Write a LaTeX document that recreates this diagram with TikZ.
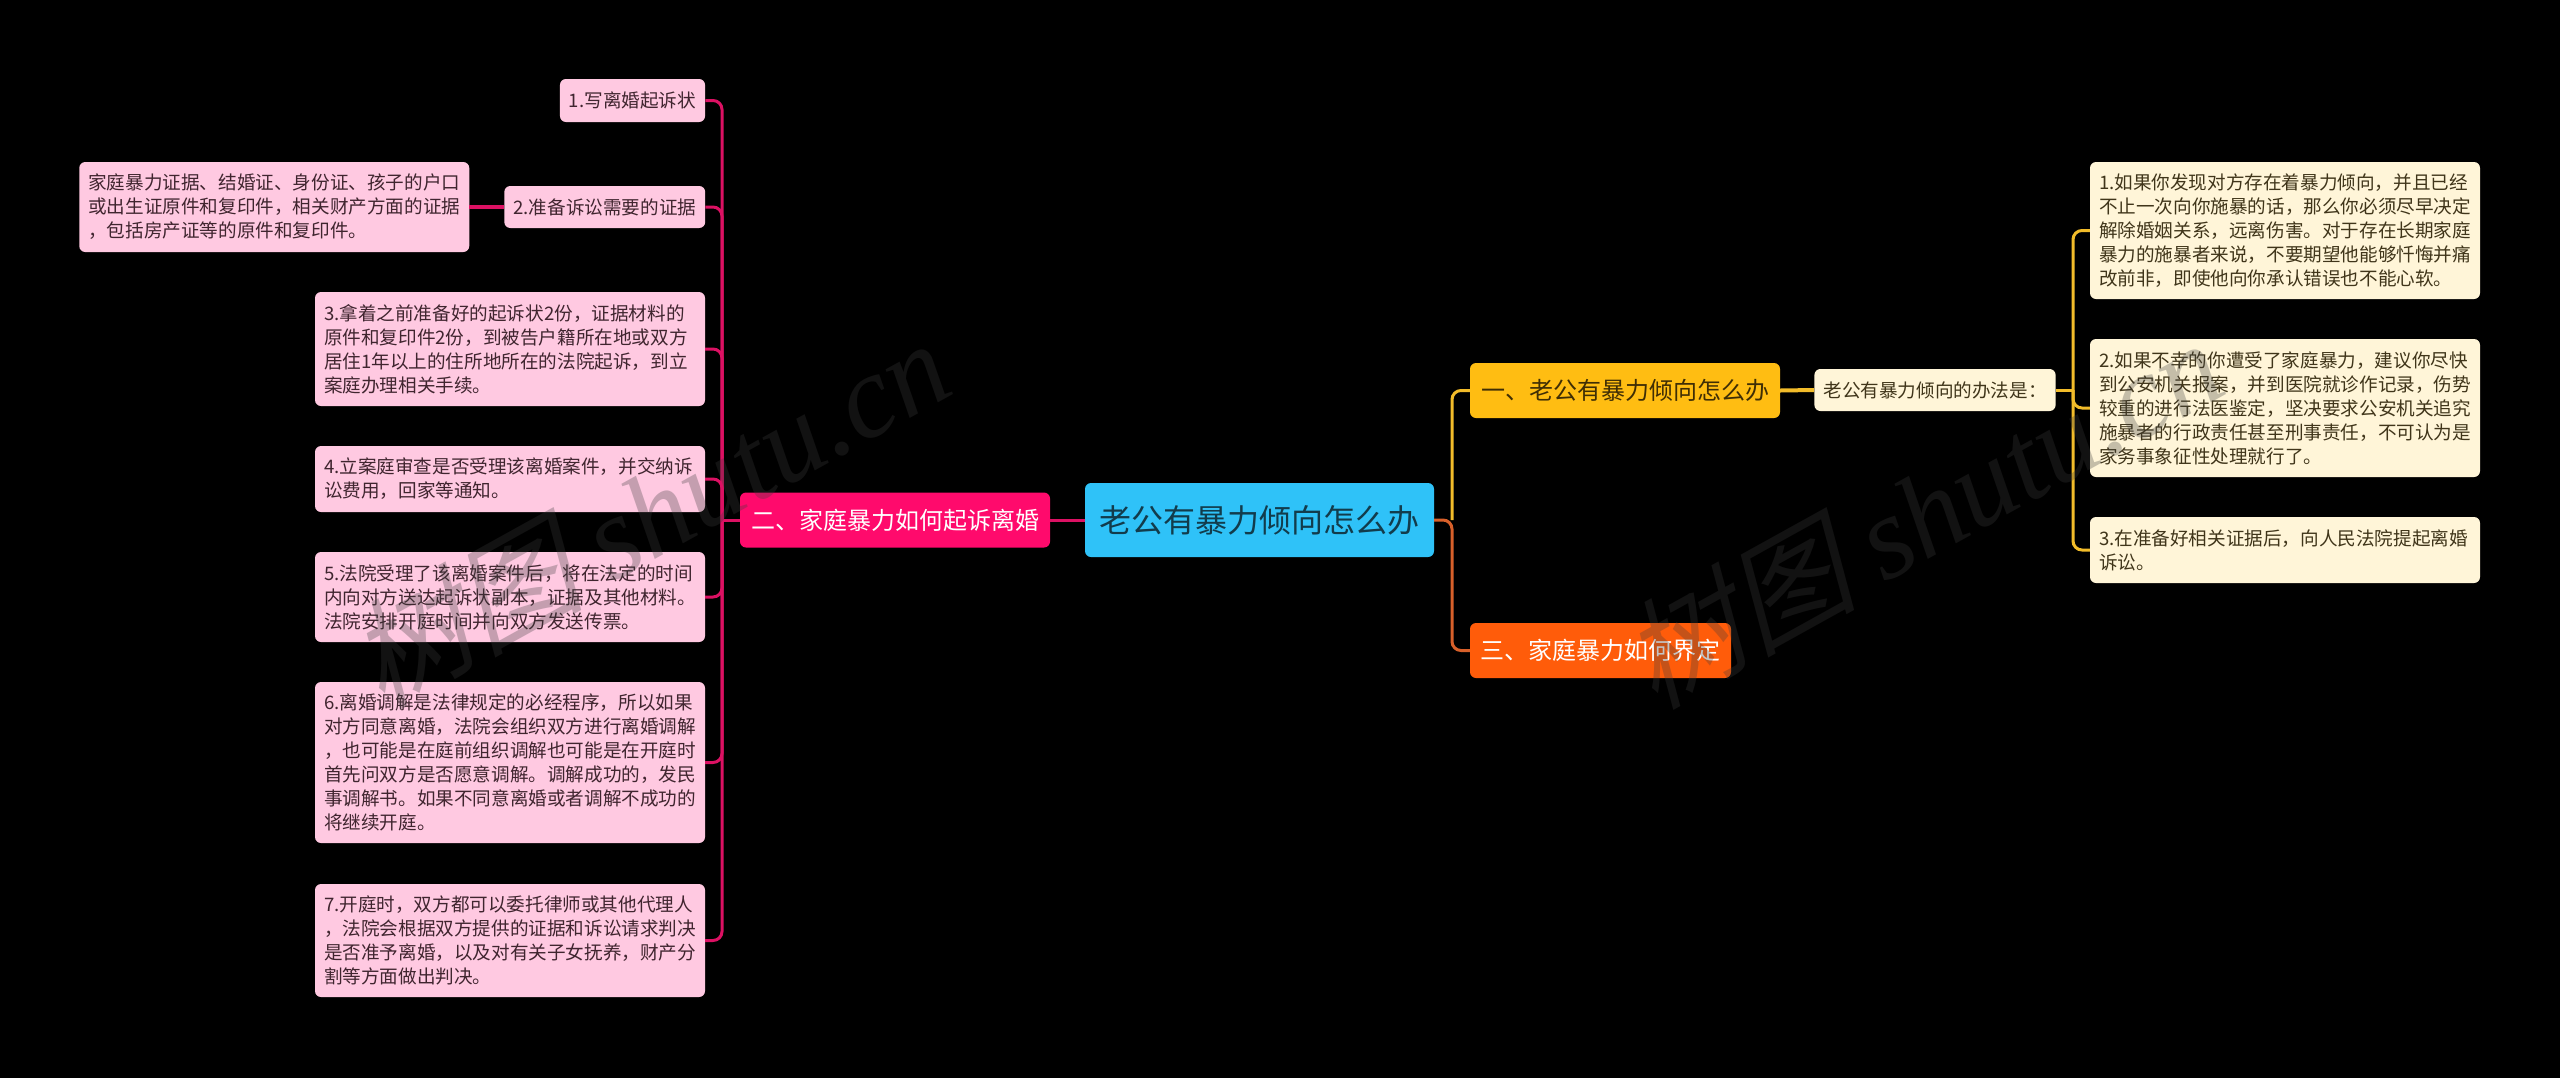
\documentclass[tikz,border=0pt]{standalone}
\usepackage{fontspec}
\setmainfont{Noto Sans CJK SC}
\newfontfamily\markcjk[FakeSlant=0.25]{Noto Sans CJK SC}
\newfontfamily\marklatin{Liberation Serif Italic}
\usepackage{xcolor}
\definecolor{pinkline}{HTML}{DC1163}
\definecolor{yellowline}{HTML}{F2BC2A}
\definecolor{orangeline}{HTML}{D8602A}
\definecolor{rootfill}{HTML}{2FC2F8}
\definecolor{roottext}{HTML}{123C4C}
\definecolor{twofill}{HTML}{FF0A6C}
\definecolor{pinkfill}{HTML}{FFC9E1}
\definecolor{pinktext}{HTML}{40252F}
\definecolor{yellowfill}{HTML}{FFBD12}
\definecolor{yellowtext}{HTML}{3F2E05}
\definecolor{creamfill}{HTML}{FFF5D8}
\definecolor{creamtext}{HTML}{40351A}
\definecolor{orangefill}{HTML}{FF5C0A}
\definecolor{markgray}{HTML}{3C3C3C}

\begin{document}
\begin{tikzpicture}[x=1pt, y=-1pt,
  box/.style={rounded corners=6pt, inner ysep=0pt, inner xsep=9pt, align=left},
  small/.style={box, font=\fontsize{18.6}{24}\selectfont},
  big/.style={box, align=center, font=\fontsize{24}{28}\selectfont},
  pinkleaf/.style={small, fill=pinkfill, text=pinktext},
  creamleaf/.style={small, fill=creamfill, text=creamtext},
  pinkwire/.style={draw=pinkline, line width=3pt, rounded corners=9pt},
  yellowwire/.style={draw=yellowline, line width=3pt, rounded corners=9pt},
  orangewire/.style={draw=orangeline, line width=3pt, rounded corners=9pt},
  markup/.style={text=markgray, opacity=0.3, rotate=29, font=\fontsize{118}{118}\selectfont}]
  \useasboundingbox (0,0) rectangle (2560,1077);
  \fill[black] (-5,-5) rectangle (2565,1082);

  \coordinate (hubroot) at (1452,520);
  \coordinate (hubtwo) at (722,520);
  \coordinate (hubmid) at (2073,390);

  \node[box, align=center, fill=rootfill, text=roottext, font=\fontsize{32}{36}\selectfont,
    minimum width=349pt, minimum height=74pt] (root) at (1259.5,520) {老公有暴力倾向怎么办};
  \node[big, fill=twofill, text=white, minimum width=310pt, minimum height=55pt] (two) at (895,520) {二、家庭暴力如何起诉离婚};
  \node[big, fill=yellowfill, text=yellowtext, minimum width=310pt, minimum height=55pt] (one) at (1625,390.5) {一、老公有暴力倾向怎么办};
  \node[big, fill=orangefill, text=white, minimum width=261pt, minimum height=55pt] (three) at (1600.5,650.5) {三、家庭暴力如何界定};
  \node[creamleaf, align=center, minimum width=240pt, minimum height=42pt] (way) at (1935,390) {老公有暴力倾向的办法是：};

  \node[pinkleaf, align=center, minimum width=145pt, minimum height=43pt] (write) at (632.5,100.5) {1.写离婚起诉状};
  \node[pinkleaf, align=center, minimum width=200.5pt, minimum height=42pt] (proof) at (604.75,207) {2.准备诉讼需要的证据};
  \node[pinkleaf, text width=372pt, minimum height=90pt] (papers) at (274.25,207) {家庭暴力证据、结婚证、身份证、孩子的户口\\或出生证原件和复印件，相关财产方面的证据\\，包括房产证等的原件和复印件。};
  \node[pinkleaf, text width=372pt, minimum height=114pt] (file) at (510,349) {3.拿着之前准备好的起诉状2份，证据材料的\\原件和复印件2份，到被告户籍所在地或双方\\居住1年以上的住所地所在的法院起诉，到立\\案庭办理相关手续。};
  \node[pinkleaf, text width=372pt, minimum height=66pt] (review) at (510,479) {4.立案庭审查是否受理该离婚案件，并交纳诉\\讼费用，回家等通知。};
  \node[pinkleaf, text width=372pt, minimum height=90pt] (serve) at (510,597) {5.法院受理了该离婚案件后，将在法定的时间\\内向对方送达起诉状副本，证据及其他材料。\\法院安排开庭时间并向双方发送传票。};
  \node[pinkleaf, text width=372pt, minimum height=161pt] (mediate) at (510,762.5) {6.离婚调解是法律规定的必经程序，所以如果\\对方同意离婚，法院会组织双方进行离婚调解\\，也可能是在庭前组织调解也可能是在开庭时\\首先问双方是否愿意调解。调解成功的，发民\\事调解书。如果不同意离婚或者调解不成功的\\将继续开庭。};
  \node[pinkleaf, text width=372pt, minimum height=113pt] (trial) at (510,940.5) {7.开庭时，双方都可以委托律师或其他代理人\\，法院会根据双方提供的证据和诉讼请求判决\\是否准予离婚，以及对有关子女抚养，财产分\\割等方面做出判决。};

  \node[creamleaf, text width=372pt, minimum height=137pt] (leave) at (2285,230.5) {1.如果你发现对方存在着暴力倾向，并且已经\\不止一次向你施暴的话，那么你必须尽早决定\\解除婚姻关系，远离伤害。对于存在长期家庭\\暴力的施暴者来说，不要期望他能够忏悔并痛\\改前非，即使他向你承认错误也不能心软。};
  \node[creamleaf, text width=372pt, minimum height=138pt] (report) at (2285,408) {2.如果不幸的你遭受了家庭暴力，建议你尽快\\到公安机关报案，并到医院就诊作记录，伤势\\较重的进行法医鉴定，坚决要求公安机关追究\\施暴者的行政责任甚至刑事责任，不可认为是\\家务事象征性处理就行了。};
  \node[creamleaf, text width=372pt, minimum height=66pt] (sue) at (2285,550) {3.在准备好相关证据后，向人民法院提起离婚\\诉讼。};

  \draw[yellowwire] (hubroot) |- (one.west);
  \draw[orangewire] (root.east) -- (hubroot) |- (three.west);
  \draw[pinkwire] (root.west) -- (two.east);
  \draw[pinkwire] (two.west) -- (hubtwo);
  \draw[pinkwire] (hubtwo) |- (write.east);
  \draw[pinkwire] (hubtwo) |- (proof.east);
  \draw[pinkwire] (hubtwo) |- (file.east);
  \draw[pinkwire] (hubtwo) |- (review.east);
  \draw[pinkwire] (hubtwo) |- (serve.east);
  \draw[pinkwire] (hubtwo) |- (mediate.east);
  \draw[pinkwire] (hubtwo) |- (trial.east);
  \draw[pinkwire, line width=4pt] (papers.east) -- (proof.west);
  \draw[yellowwire, line width=4pt] (one.east) -- (way.west);
  \draw[yellowwire] (way.east) -- (hubmid);
  \draw[yellowwire] (hubmid) |- (leave.west);
  \draw[yellowwire] (hubmid) |- (report.west);
  \draw[yellowwire] (hubmid) |- (sue.west);

  \node[markup] (markleft) at (648,512) {\markcjk 树图 \marklatin shutu.cn};
  \node[markup] (markright) at (1921,512) {\markcjk 树图 \marklatin shutu.cn};
\end{tikzpicture}
\end{document}
